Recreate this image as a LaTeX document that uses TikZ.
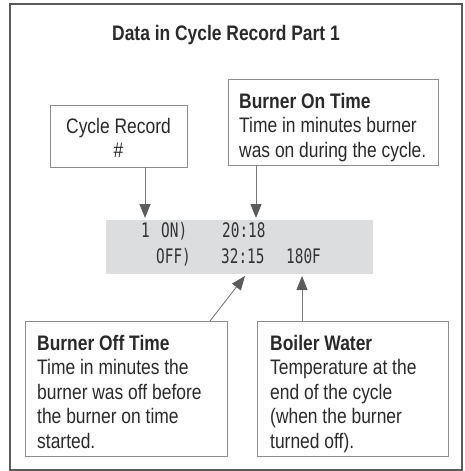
\documentclass[tikz,border=0pt]{standalone}
\usepackage{fontspec}
\setmainfont{Liberation Sans}[FakeStretch=0.83]
\newfontfamily\lcdfont{DejaVu Sans Mono}[FakeStretch=0.72]
\usetikzlibrary{arrows.meta}
\definecolor{framegray}{HTML}{5A5A5A}
\definecolor{boxgray}{HTML}{8C8C8C}
\definecolor{bandgray}{HTML}{DCDDDE}
\definecolor{linegray}{HTML}{7A7A7A}
\definecolor{headgray}{HTML}{5C5C5C}
\definecolor{txt}{HTML}{2A2A2A}
\begin{document}
\begin{tikzpicture}[x=1pt,y=-1pt,
  frame/.style={draw=framegray,line width=1.1pt},
  infobox/.style={draw=boxgray,line width=0.9pt,fill=white},
  band/.style={fill=bandgray},
  line/.style={inner sep=0pt,anchor=base west,text=txt,font=\fontsize{21}{24}\selectfont},
  head/.style={inner sep=0pt,anchor=base west,text=txt,font=\fontsize{21}{24}\selectfont\bfseries},
  lcd/.style={inner sep=0pt,anchor=base west,text=black!80,font=\lcdfont\fontsize{20}{24}\selectfont},
  arr/.style={draw=linegray,line width=0.9pt,-{Triangle[length=14pt,width=11pt,color=headgray]}}
]
\useasboundingbox (0,0) rectangle (464,471);
\draw[frame] (10,4) rectangle (462,470);
\node[head,anchor=base] (title) at (226,40) {Data in Cycle Record Part 1};

% display band
\path[band] (106,220) rectangle (373,274);
\node[lcd] (d1) at (141,237) {1};
\node[lcd] (d2) at (161,237) {ON)};
\node[lcd] (d3) at (222,237) {20:18};
\node[lcd] (d4) at (156,263) {OFF)};
\node[lcd] (d5) at (221,263) {32:15};
\node[lcd] (d6) at (286,263) {180F};

% boxes
\path[infobox] (50,105) rectangle (187,167);
\node[inner sep=0pt,minimum width=137pt,minimum height=62pt] (cyc) at (118.5,136) {};
\node[line,anchor=base] (cyc1) at (118.5,133) {Cycle Record};
\node[line,anchor=base] (cyc2) at (118.5,157) {\#};

\path[infobox] (228,79) rectangle (438,165);
\node[inner sep=0pt,minimum width=210pt,minimum height=86pt] (on) at (333,122) {};
\node[head] (on1) at (239,108) {Burner On Time};
\node[line] (on2) at (239,132.5) {Time in minutes burner};
\node[line] (on3) at (239,157) {was on during the cycle.};

\path[infobox] (25,321) rectangle (227,456);
\node[inner sep=0pt,minimum width=202pt,minimum height=135pt] (off) at (126,388.5) {};
\node[head] (off1) at (37,350) {Burner Off Time};
\node[line] (off2) at (37,374.5) {Time in minutes the};
\node[line] (off3) at (37,399) {burner was off before};
\node[line] (off4) at (37,423.5) {the burner on time};
\node[line] (off5) at (37,448) {started.};

\path[infobox] (257,321) rectangle (448,456);
\node[inner sep=0pt,minimum width=191pt,minimum height=135pt] (boil) at (352.5,388.5) {};
\node[head] (boil1) at (270,350) {Boiler Water};
\node[line] (boil2) at (270,374.5) {Temperature at the};
\node[line] (boil3) at (270,399) {end of the cycle};
\node[line] (boil4) at (270,423.5) {(when the burner};
\node[line] (boil5) at (270,448) {turned off).};

% connectors
\coordinate (tA) at (145,218);
\coordinate (tB) at (256,218);
\coordinate (tC) at (245,276);
\coordinate (tD) at (302,276);
\coordinate (sC) at (210,321);
\draw[arr] (cyc.south -| tA) -- (tA);
\draw[arr] (on.south -| tB) -- (tB);
\draw[arr] (sC) -- (tC);
\draw[arr] (boil.north -| tD) -- (tD);
\end{tikzpicture}
\end{document}
